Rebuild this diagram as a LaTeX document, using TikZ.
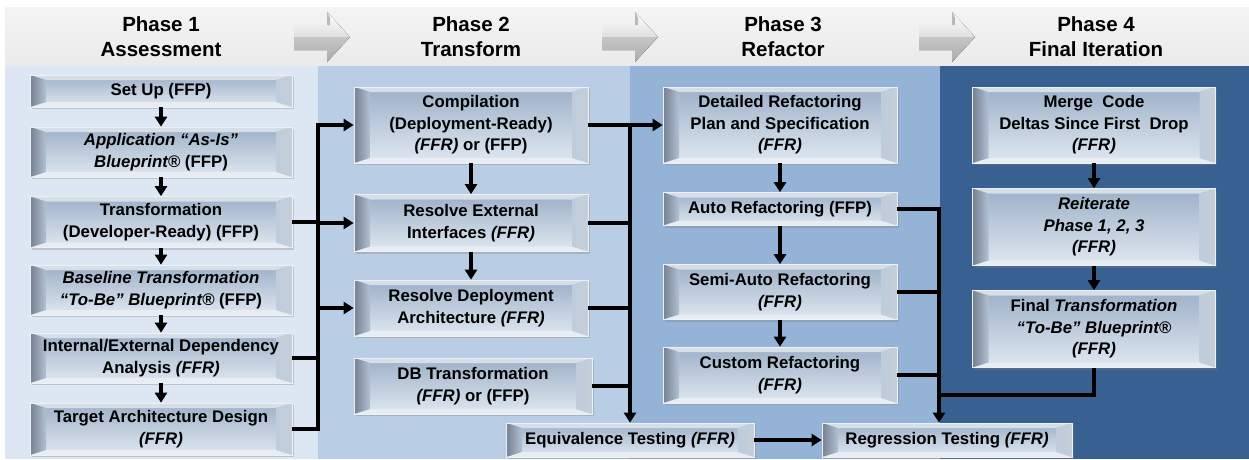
\documentclass[tikz,border=0pt]{standalone}
\usepackage{fontspec}
\setmainfont{Liberation Sans}
\usetikzlibrary{arrows.meta,shadows}

\definecolor{hdrtop}{HTML}{F4F4F4}
\definecolor{hdrbot}{HTML}{EAEAEA}
\definecolor{colA}{HTML}{DDE7F3}
\definecolor{colB}{HTML}{B9CDE5}
\definecolor{colC}{HTML}{95B3D7}
\definecolor{colD}{HTML}{386192}
\definecolor{facetop}{HTML}{9DB0C8}
\definecolor{facebot}{HTML}{E0E8F1}
\definecolor{bevhi}{HTML}{D6DEE8}
\definecolor{bevlo}{HTML}{E8EDF3}
\definecolor{bevdark}{HTML}{76808F}
\definecolor{bevlight}{HTML}{C6CED9}

\newcommand{\boxfont}{\fontsize{16.8}{21.5}\selectfont\bfseries}
\newcommand{\phasefont}{\fontsize{20.5}{25}\selectfont\bfseries}

\begin{document}
\begin{tikzpicture}[
    x=1pt, y=-1pt,
    >={Triangle[length=10pt,width=12pt]},
    link/.style={line width=3.4pt, line join=miter},
    phase/.style={align=center, font=\phasefont, inner sep=0pt},
    stage/.style={
        minimum width=#1,
        align=center,
        font=\boxfont,
        inner sep=2pt,
        top color=facetop,
        bottom color=facebot,
        draw=facebot!60!white,
        line width=0.7pt,
        drop shadow={shadow xshift=1.5pt, shadow yshift=-2pt, opacity=0.35},
        path picture={
            % bevelled edges
            \fill[bevhi] (path picture bounding box.north west)
                -- (path picture bounding box.north east)
                -- ([shift={(-16pt,-5pt)}]path picture bounding box.north east)
                -- ([shift={(16pt,-5pt)}]path picture bounding box.north west) -- cycle;
            \fill[bevlo] (path picture bounding box.south west)
                -- (path picture bounding box.south east)
                -- ([shift={(-16pt,5pt)}]path picture bounding box.south east)
                -- ([shift={(16pt,5pt)}]path picture bounding box.south west) -- cycle;
            \shade[left color=bevdark, right color=facetop!70!facebot]
                (path picture bounding box.south west)
                -- (path picture bounding box.north west)
                -- ([shift={(16pt,-5pt)}]path picture bounding box.north west)
                -- ([shift={(16pt,5pt)}]path picture bounding box.south west) -- cycle;
            \shade[left color=facetop!50!facebot, right color=bevlight]
                (path picture bounding box.south east)
                -- (path picture bounding box.north east)
                -- ([shift={(-16pt,-5pt)}]path picture bounding box.north east)
                -- ([shift={(-16pt,5pt)}]path picture bounding box.south east) -- cycle;
        }
    },
    stage/.default=234pt
]
\useasboundingbox (0,0) rectangle (1249,459);

% backgrounds
\fill[top color=hdrtop, bottom color=hdrbot] (5,7) rectangle (1249,66);
\fill[colA] (5,66) rectangle (318,459);
\fill[colB] (318,66) rectangle (630,459);
\fill[colC] (630,66) rectangle (940,459);
\fill[colD] (940,66) rectangle (1249,459);

% phase titles
\node[phase] (ph1) at (161,37) {Phase 1\\Assessment};
\node[phase] (ph2) at (471,37) {Phase 2\\Transform};
\node[phase] (ph3) at (783,37) {Phase 3\\Refactor};
\node[phase] (ph4) at (1096,37) {Phase 4\\Final Iteration};

% grey block arrows between phases
\foreach \x in {294,602,919} {
    \fill[top color=white, bottom color=gray!25]
        (\x,25) -- (\x+33,25) -- (\x+33,12) -- (\x+56,37) -- (\x,37) -- cycle;
    \fill[top color=gray!45, bottom color=gray!65]
        (\x,37) -- (\x+56,37) -- (\x+33,62) -- (\x+33,50) -- (\x,50) -- cycle;
    \fill[gray!55] (\x+33,12) -- (\x+36,18) -- (\x+36,25) -- (\x+33,25) -- cycle;
}

% phase 1
\node[stage=262pt, minimum height=32pt] (setup) at (161,91) {Set Up (FFP)};
\node[stage=262pt, minimum height=50pt] (asis) at (161,152) {\textit{Application “As-Is”}\\\textit{Blueprint®} (FFP)};
\node[stage=262pt, minimum height=51pt] (trans) at (161,222) {Transformation\\(Developer-Ready) (FFP)};
\node[stage=262pt, minimum height=50pt] (base) at (161,290) {\textit{Baseline Transformation}\\\textit{“To-Be” Blueprint®} (FFP)};
\node[stage=262pt, minimum height=50pt] (intdep) at (161,358) {Internal/External Dependency\\Analysis \textit{(FFR)}};
\node[stage=262pt, minimum height=52pt] (target) at (161,429) {Target Architecture Design\\\textit{(FFR)}};

% phase 2
\node[stage, minimum height=76pt] (comp) at (471,125) {Compilation\\(Deployment-Ready)\\\textit{(FFR)} or (FFP)};
\node[stage, minimum height=57pt] (ext) at (471,223) {Resolve External\\Interfaces \textit{(FFR)}};
\node[stage, minimum height=56pt] (depl) at (471,308) {Resolve Deployment\\Architecture \textit{(FFR)}};
\node[stage=238pt, minimum height=56pt] (db) at (473,386) {DB Transformation\\\textit{(FFR)} or (FFP)};
\node[stage=248pt, minimum height=34pt] (equiv) at (630,440) {Equivalence Testing \textit{(FFR)}};

% phase 3
\node[stage, minimum height=76pt] (detail) at (780,125) {Detailed Refactoring\\Plan and Specification\\\textit{(FFR)}};
\node[stage, minimum height=33pt] (auto) at (780,209) {Auto Refactoring (FFP)};
\node[stage, minimum height=55pt] (semi) at (780,292) {Semi-Auto Refactoring\\\textit{(FFR)}};
\node[stage, minimum height=56pt] (custom) at (780,375) {Custom Refactoring\\\textit{(FFR)}};
\node[stage=250pt, minimum height=34pt] (regr) at (947,440) {Regression Testing \textit{(FFR)}};

% phase 4
\node[stage=243pt, minimum height=76pt] (merge) at (1094,125) {Merge\ \ Code\\Deltas Since First\ \ Drop\\\textit{(FFR)}};
\node[stage=243pt, minimum height=77pt] (reit) at (1094,227) {\textit{Reiterate}\\\textit{Phase 1, 2, 3}\\\textit{(FFR)}};
\node[stage=243pt, minimum height=77pt] (final) at (1094,329) {Final \textit{Transformation}\\\textit{“To-Be” Blueprint®}\\\textit{(FFR)}};

% bus lines on the column borders
\coordinate (busA) at (318,0);
\coordinate (busB) at (630,0);
\coordinate (busC) at (939,0);
\coordinate (finaljoin) at (939,395);

% steps inside each phase
\foreach \a/\b in {setup/asis, asis/trans, trans/base, base/intdep, intdep/target,
                   comp/ext, ext/depl, detail/auto, auto/semi, semi/custom,
                   merge/reit, reit/final}
    \draw[link,->] (\a) -- (\b);

% phase 1 -> phase 2
\draw[link,->] (target.east) -- (target.east -| busA) -- (comp.west -| busA) -- (comp.west);
\draw[link] (trans.east) -- (trans.east -| busA);
\draw[link] (intdep.east) -- (intdep.east -| busA);
\draw[link,->] (ext.west -| busA) -- (ext.west);
\draw[link,->] (depl.west -| busA) -- (depl.west);

% phase 2 -> phase 3 and equivalence testing
\draw[link,->] (comp.east) -- (detail.west);
\draw[link,->] (comp.east -| busB) -- (equiv.north);
\draw[link] (ext.east) -- (ext.east -| busB);
\draw[link] (depl.east) -- (depl.east -| busB);
\draw[link] (db.east) -- (db.east -| busB);

% phase 3/4 -> regression testing
\draw[link,->] (auto.east) -- (auto.east -| busC) -- (busC |- regr.north);
\draw[link] (semi.east) -- (semi.east -| busC);
\draw[link] (custom.east) -- (custom.east -| busC);
\draw[link] (final.south) |- (finaljoin);
\draw[link,->] (equiv) -- (regr);

\end{tikzpicture}
\end{document}
